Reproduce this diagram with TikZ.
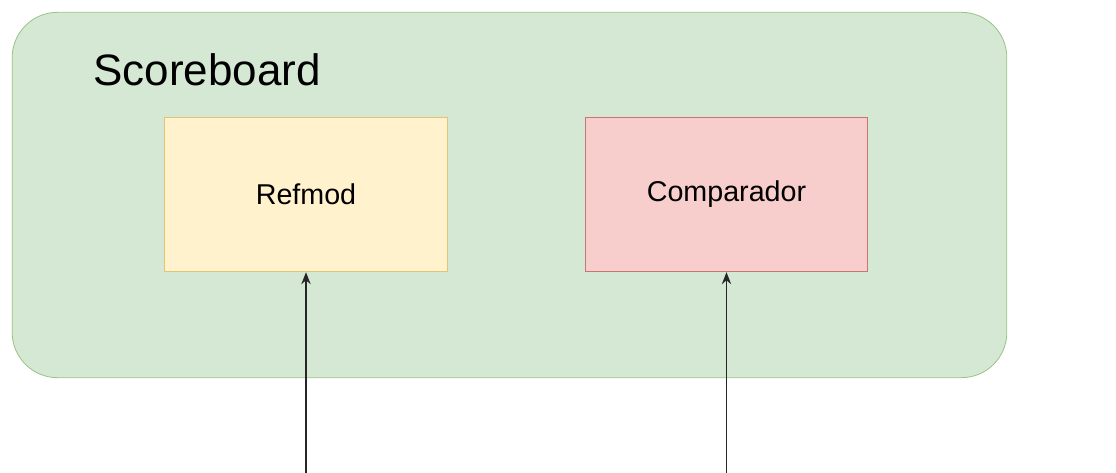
\documentclass[tikz,border=0pt]{standalone}
\usepackage{fontspec}
\setmainfont{Liberation Sans}
\usetikzlibrary{arrows.meta}
\definecolor{gfill}{HTML}{D5E8D4}
\definecolor{gline}{HTML}{82B366}
\definecolor{yfill}{HTML}{FFF2CC}
\definecolor{yline}{HTML}{D6B656}
\definecolor{rfill}{HTML}{F8CECC}
\definecolor{rline}{HTML}{B85450}
\tikzset{
  box/.style={draw, line width=0.6pt, minimum width=212pt, minimum height=116pt, inner sep=0pt, font=\fontsize{21.5}{24}\selectfont},
  conn/.style={-{Stealth[length=9pt,width=7pt]}, line width=1pt, black!85}
}
\begin{document}
\begin{tikzpicture}[x=0.75pt,y=-0.75pt]
\useasboundingbox (0,0) rectangle (1116,473);
\node[draw=gline!80, fill=gfill, line width=0.6pt, rounded corners=34pt, minimum width=746pt, minimum height=274pt, inner sep=0pt] (sb) at (509.5,195) {};
\node[anchor=base west, font=\fontsize{33}{36}\selectfont, inner sep=0pt] (title) at (93,86) {Scoreboard};
\node[box, draw=yline!80, fill=yfill] (ref) at (306,194.5) {Refmod};
\node[box, draw=rline!80, fill=rfill] (cmp) at (726.5,194.5) {Comparador};
\coordinate (a1) at (306,473);
\coordinate (a2) at (726.5,473);
\draw[conn] (a1) -- (ref.south);
\draw[conn] (a2) -- (cmp.south);
\end{tikzpicture}
\end{document}
